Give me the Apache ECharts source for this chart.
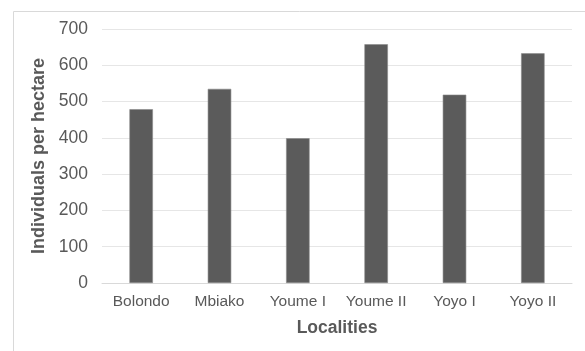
<!DOCTYPE html>
<html lang="en">
  <head>
    <meta charset="UTF-8" />
    <script src="https://cdn.jsdelivr.net/npm/echarts@6/dist/echarts.min.js"></script>
    <title>Individuals per hectare</title>
    <style>
      html, body { margin: 0; padding: 0; background: #fff; }
      #container { width: 585px; height: 351px; }
    </style>
  </head>
  <body>
    <div id="container"></div>
    <script>
      const localities = ["Bolondo", "Mbiako", "Youme I", "Youme II", "Yoyo I", "Yoyo II"];
      const individuals = [479, 535, 399, 658, 519, 633];
      const yTicks = [0, 100, 200, 300, 400, 500, 600, 700];

      const myChart = echarts.init(document.getElementById("container"));
      const font = "Liberation Sans, Arial, sans-serif";

      const option = {
        animation: false,
        graphic: [
          {
            // outer chart frame, runs off the right/bottom edge
            type: "rect",
            shape: { x: 13.5, y: 11.5, width: 600, height: 400 },
            style: { fill: "none", stroke: "#d9d9d9", lineWidth: 1 },
            silent: true,
          },
        ],
        grid: { left: 102, right: 13, top: 29, bottom: 68 },
        xAxis: {
          type: "category",
          data: localities,
          name: "Localities",
          nameLocation: "middle",
          nameGap: 36,
          nameTextStyle: { fontFamily: font, fontSize: 17.5, fontWeight: "bold", color: "#595959" },
          axisLine: { lineStyle: { color: "#d9d9d9" } },
          axisTick: { show: false },
          axisLabel: { interval: 0, fontFamily: font, fontSize: 15.5, color: "#595959", margin: 11 },
        },
        yAxis: {
          type: "value",
          min: yTicks[0],
          max: yTicks[yTicks.length - 1],
          interval: 100,
          name: "Individuals per hectare",
          nameLocation: "middle",
          nameGap: 48,
          nameTextStyle: { fontFamily: font, fontSize: 18, fontWeight: "bold", color: "#595959" },
          axisLine: { show: false },
          axisTick: { show: false },
          axisLabel: { fontFamily: font, fontSize: 17.5, color: "#595959", margin: 14 },
          splitLine: { lineStyle: { color: "#e6e6e6", width: 1 } },
        },
        series: [
          {
            name: "Individuals per hectare",
            type: "bar",
            data: individuals,
            barWidth: "30%",
            itemStyle: { color: "#5b5b5b", borderColor: "#8a8a8a", borderWidth: 0.6 },
          },
        ],
      };

      myChart.setOption(option);
    </script>
  </body>
</html>
